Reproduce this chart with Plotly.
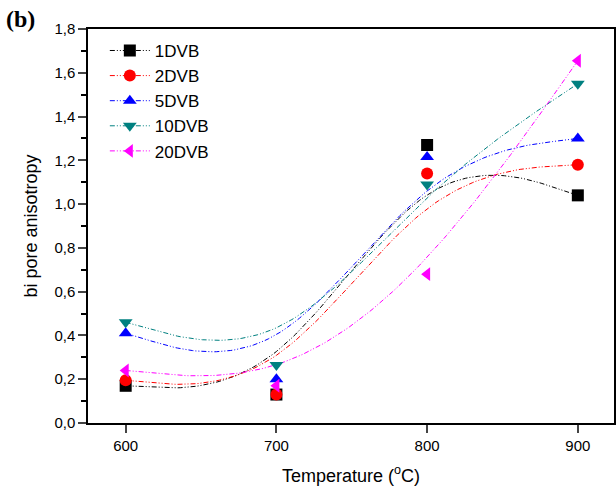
import numpy as np
import plotly.graph_objects as go

temperature = [600, 700, 800, 900]
dvb1 = [0.17, 0.13, 1.27, 1.04]
dvb2 = [0.195, 0.13, 1.14, 1.18]
dvb5 = [0.41, 0.20, 1.215, 1.30]
dvb10 = [0.46, 0.265, 1.09, 1.55]
dvb20 = [0.24, 0.17, 0.68, 1.655]

names = ["1DVB", "2DVB", "5DVB", "10DVB", "20DVB"]
series = [dvb1, dvb2, dvb5, dvb10, dvb20]
colors = ["#000000", "#FF0000", "#0000FF", "#008080", "#FF00FF"]
symbols = ["square", "circle", "triangle-up", "triangle-down", "triangle-left"]


def bspline(xs, ys, n=40):
    # uniform cubic B-spline, end points tripled (Origin style "B-Spline" connect)
    px = [xs[0]] * 2 + list(xs) + [xs[-1]] * 2
    py = [ys[0]] * 2 + list(ys) + [ys[-1]] * 2
    u = np.linspace(0, 1, n)
    b0 = (1 - u) ** 3 / 6
    b1 = (3 * u**3 - 6 * u**2 + 4) / 6
    b2 = (-3 * u**3 + 3 * u**2 + 3 * u + 1) / 6
    b3 = u**3 / 6
    cx, cy = [], []
    for i in range(len(px) - 3):
        cx += list(b0 * px[i] + b1 * px[i + 1] + b2 * px[i + 2] + b3 * px[i + 3])
        cy += list(b0 * py[i] + b1 * py[i + 1] + b2 * py[i + 2] + b3 * py[i + 3])
    return cx, cy


dash = "5px,2px,1px,2px,1px,2px"

fig = go.Figure()
for name, ys, c, s in zip(names, series, colors, symbols):
    cx, cy = bspline(temperature, ys)
    fig.add_trace(go.Scatter(x=cx, y=cy, mode="lines", line=dict(color=c, width=1, dash=dash),
                             showlegend=False, hoverinfo="skip"))
for name, ys, c, s in zip(names, series, colors, symbols):
    fig.add_trace(go.Scatter(x=temperature, y=ys, mode="markers",
                             marker=dict(symbol=s, color=c, size=12), showlegend=False))
    fig.add_trace(go.Scatter(x=[None], y=[None], mode="lines+markers", name=name,
                             line=dict(color=c, width=1, dash=dash),
                             marker=dict(symbol=s, color=c, size=12)))

fig.update_layout(
    width=616, height=486,
    margin=dict(l=88, r=2, t=29, b=63),
    plot_bgcolor="white", paper_bgcolor="white",
    separators=",.",
    font=dict(family="Liberation Sans, Arial", size=15, color="black"),
    showlegend=True,
    legend=dict(x=0.032, y=0.99, xanchor="left", yanchor="top", bgcolor="rgba(0,0,0,0)",
                font=dict(size=17), itemwidth=40, tracegroupgap=0),
    xaxis=dict(range=[575, 924], tickvals=temperature, ticks="outside", ticklen=8,
               tickwidth=1.5, showline=True, linewidth=1.5, linecolor="black", mirror=True,
               showgrid=False, zeroline=False, automargin=False,
               title=dict(text="Temperature (<sup>o</sup>C)", font=dict(size=18), standoff=20)),
    yaxis=dict(range=[0, 1.8], dtick=0.2, tickformat=".1f", ticks="outside", ticklen=8,
               tickwidth=1.5, showline=True, linewidth=1.5, linecolor="black", mirror=True,
               showgrid=False, zeroline=False, automargin=False,
               minor=dict(dtick=0.1, ticks="outside", ticklen=5, tickwidth=1.5, tickcolor="black"),
               title=dict(text="bi pore anisotropy", font=dict(size=18), standoff=12)),
)
fig.add_annotation(text="<b>(b)</b>", xref="paper", yref="paper", x=-0.16, y=1.025,
                   xanchor="left", yanchor="middle", showarrow=False,
                   font=dict(family="Liberation Serif, Times New Roman", size=24))

# page body has a default 8px margin; drop it so the figure fills the window
fig.write_html("out.html", config={"displayModeBar": False},
               post_script="document.body.style.margin='0px';")
